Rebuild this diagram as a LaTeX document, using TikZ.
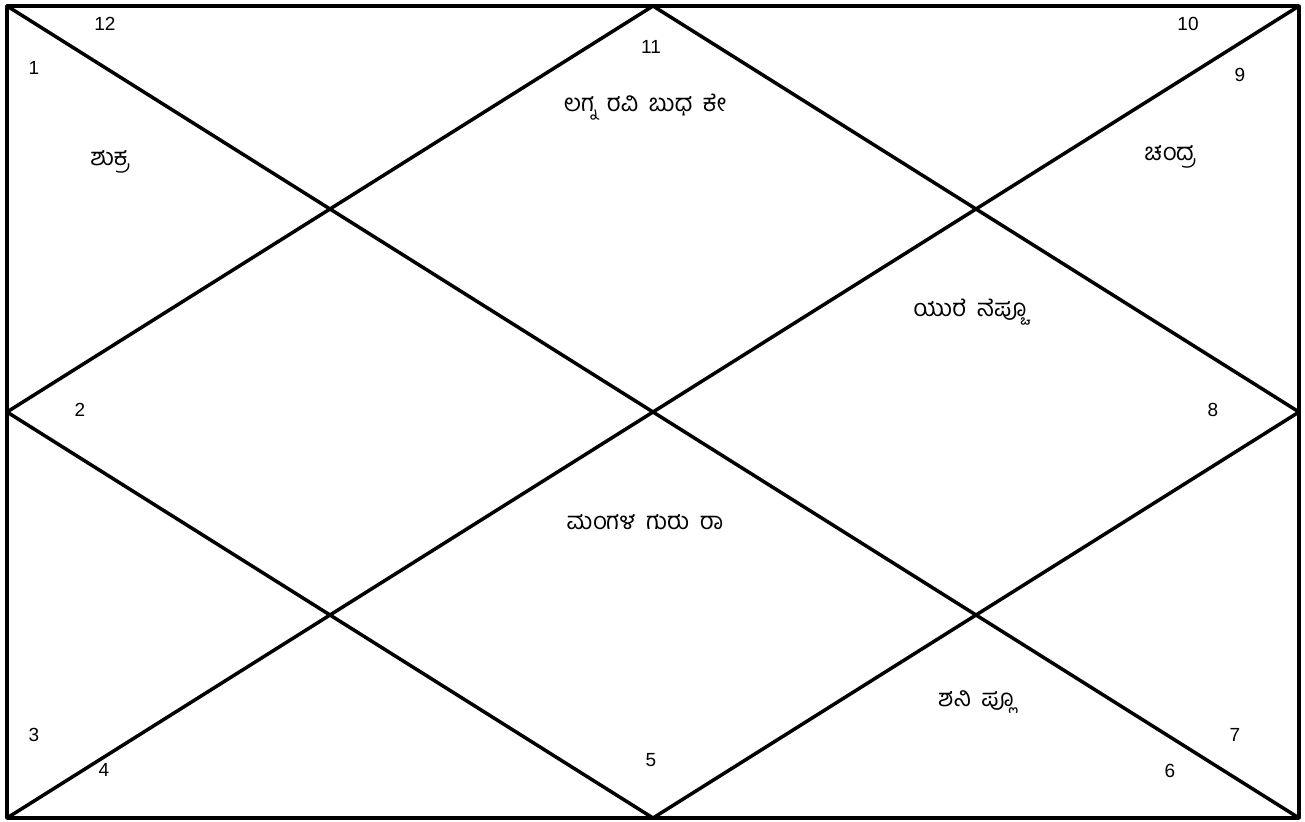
\documentclass[tikz,border=0pt]{standalone}
\usepackage{fontspec}
\setmainfont{Liberation Sans}
\newfontfamily\kan[Script=Kannada,WordSpace=1.8]{Hind Mysuru}
\begin{document}
\begin{tikzpicture}[x=1pt,y=-1pt,
  edge/.style={line width=3.5pt,line cap=round,line join=round},
  num/.style={font=\fontsize{19}{22}\selectfont,inner sep=0pt},
  planet/.style={font=\kan\fontsize{24}{28}\selectfont,inner sep=0pt}]
\useasboundingbox (0,0) rectangle (1305,821);
\coordinate (tl) at (7,6);
\coordinate (tr) at (1299,6);
\coordinate (bl) at (7,818);
\coordinate (br) at (1299,818);
\coordinate (tm) at (653,6);
\coordinate (bm) at (653,818);
\coordinate (lm) at (7,412);
\coordinate (rm) at (1299,412);
\draw[edge] (tl) -- (tr) -- (br) -- (bl) -- cycle;
\draw[edge] (tl) -- (br);
\draw[edge] (tr) -- (bl);
\draw[edge] (tm) -- (rm) -- (bm) -- (lm) -- cycle;
\node[num] (n12) at (105,24) {12};
\node[num] (n1) at (34,68) {1};
\node[num] (n11) at (651,47) {11};
\node[num] (n10) at (1188,24) {10};
\node[num] (n9) at (1240,75) {9};
\node[num] (n2) at (80,410) {2};
\node[num] (n8) at (1213,410) {8};
\node[num] (n3) at (34,735) {3};
\node[num] (n4) at (104,770) {4};
\node[num] (n5) at (651,760) {5};
\node[num] (n6) at (1170,771) {6};
\node[num] (n7) at (1235,735) {7};
\node[planet] (p11) at (645,107) {ಲಗ್ನ ರವಿ ಬುಧ ಕೇ};
\node[planet] (p1) at (110,162) {ಶುಕ್ರ};
\node[planet] (p9) at (1170,157) {ಚಂದ್ರ};
\node[planet] (p8) at (970,312) {ಯುರೆ ನೆಪ್ಚೂ};
\node[planet] (p5) at (645,522) {ಮಂಗಳ ಗುರು ರಾ};
\node[planet] (p6) at (976,702) {ಶನಿ ಪ್ಲೂ};
\end{tikzpicture}
\end{document}
